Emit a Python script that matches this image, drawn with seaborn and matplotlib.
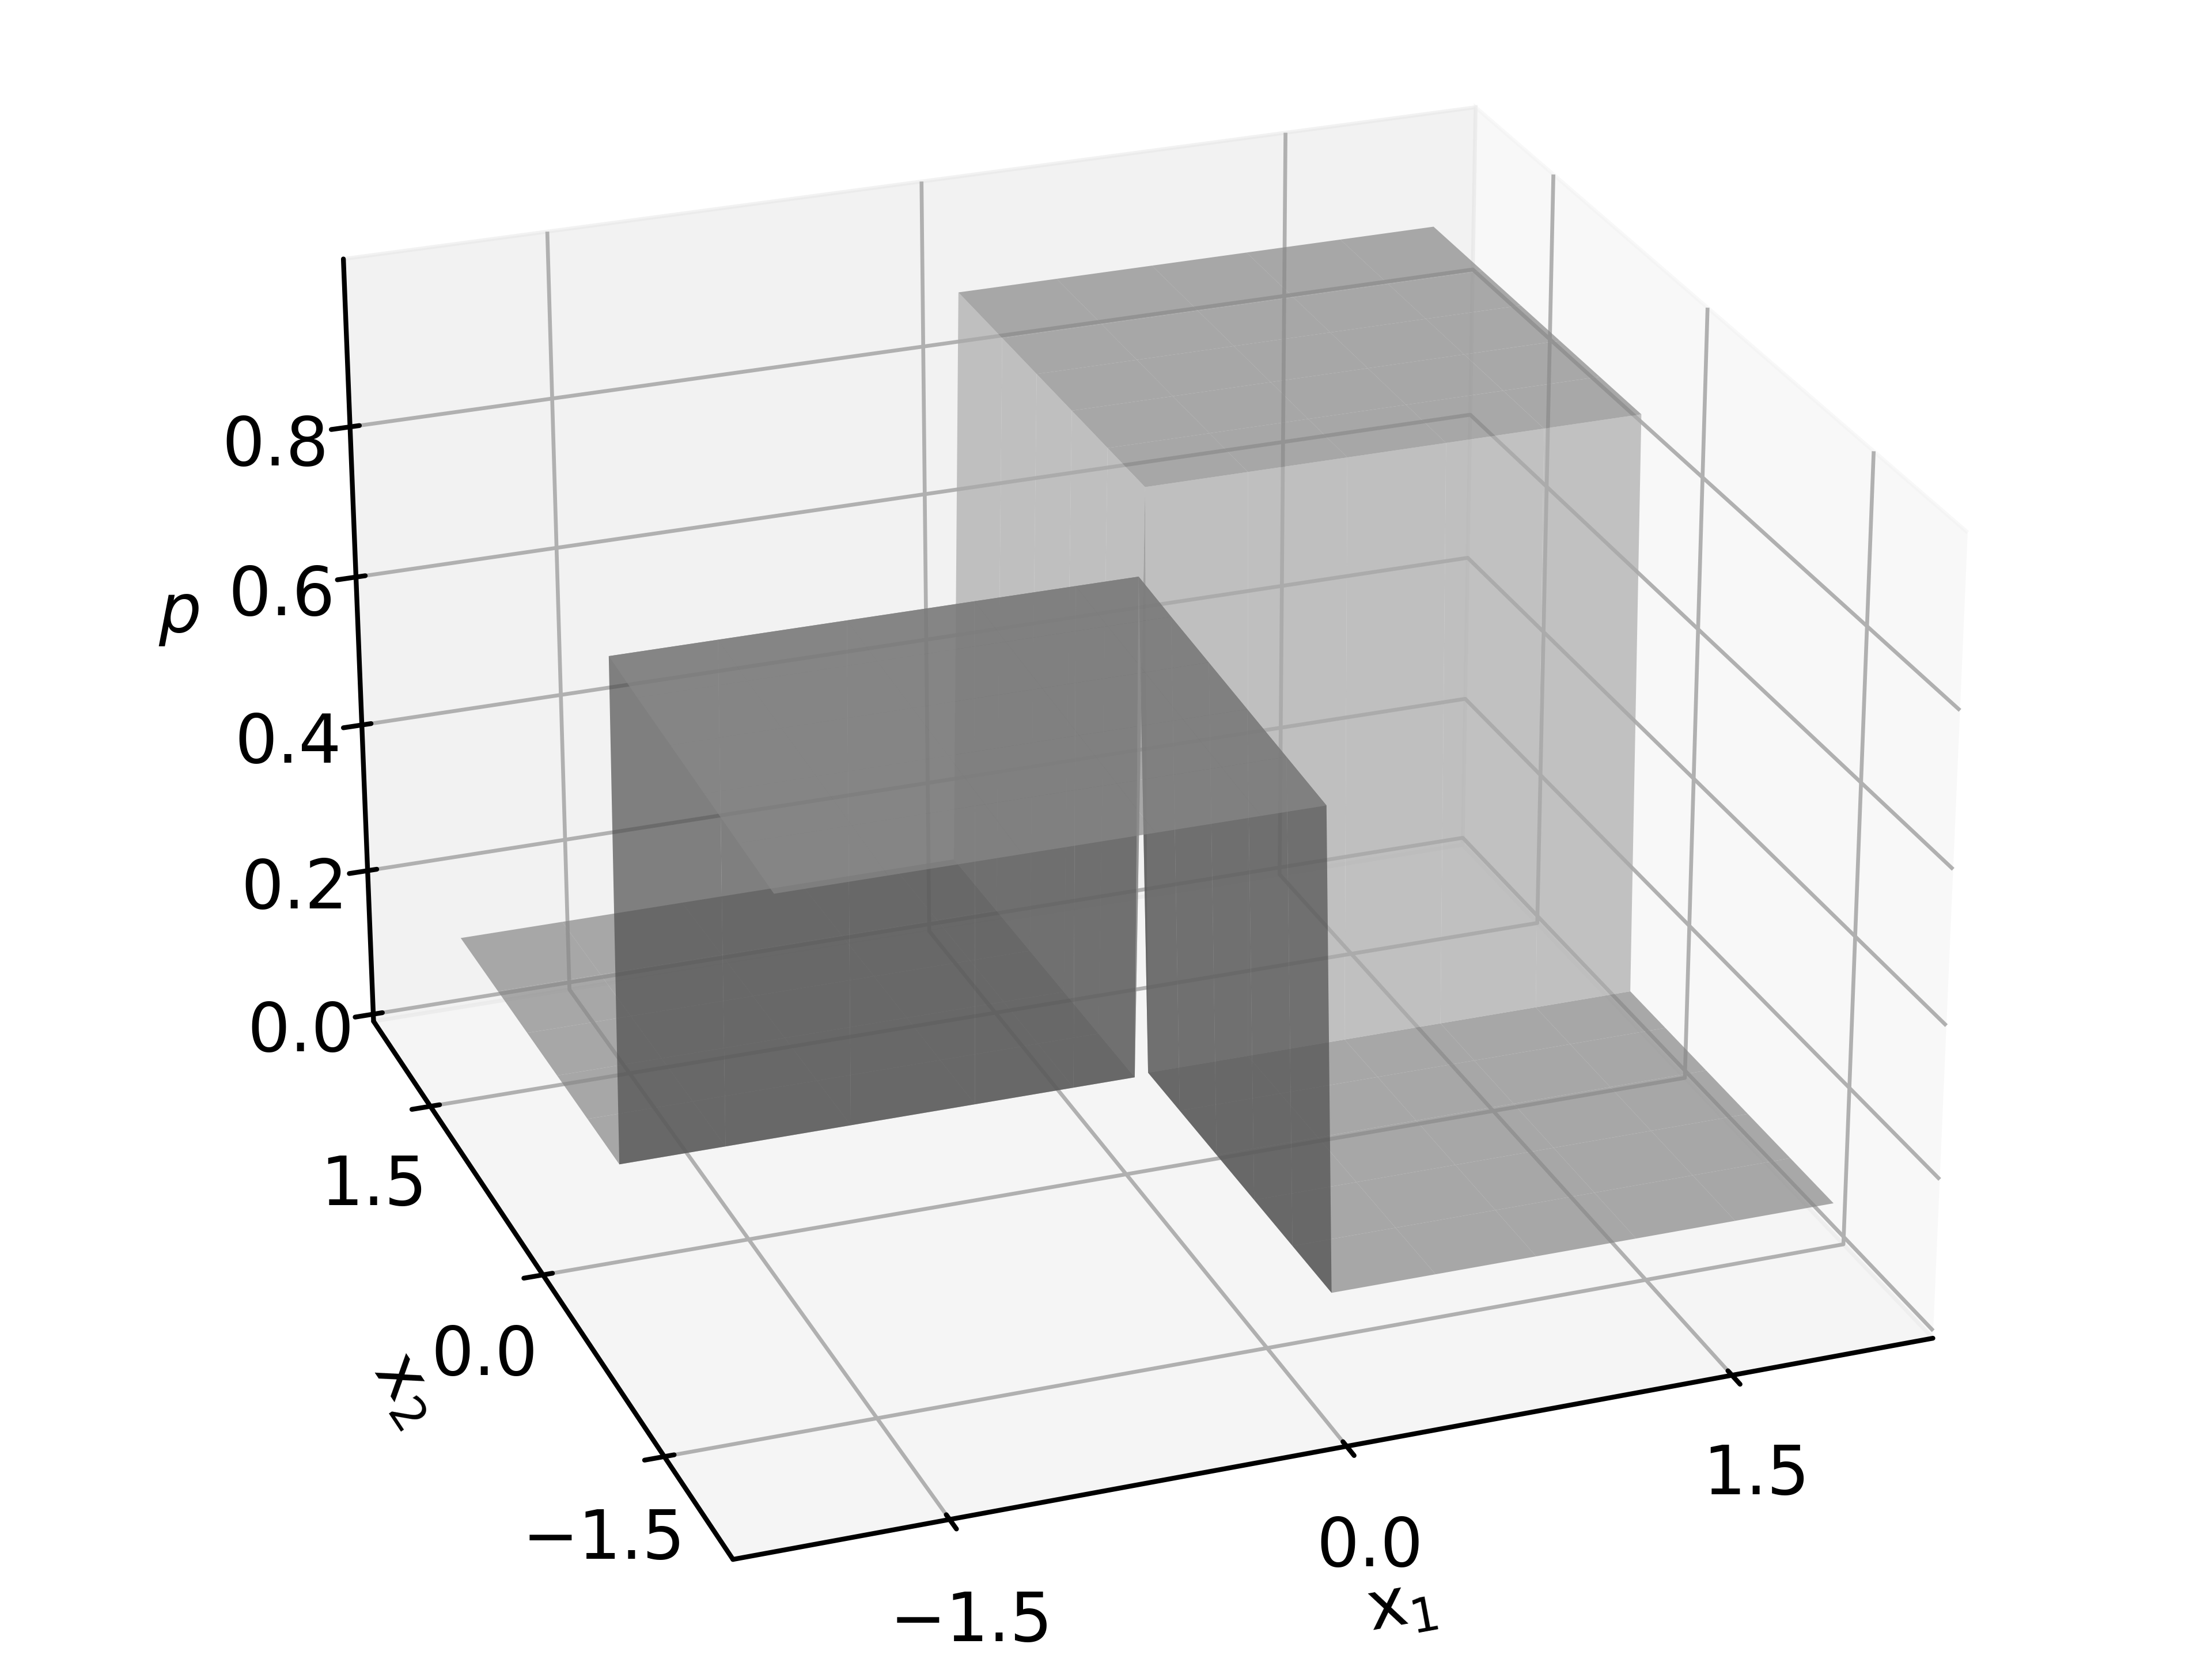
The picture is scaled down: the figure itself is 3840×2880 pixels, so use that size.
import numpy as np
import matplotlib
matplotlib.use("Agg")
import matplotlib.pyplot as plt
from matplotlib.colors import LightSource
import seaborn as sns
from mpl_toolkits.mplot3d import Axes3D

sns.set_theme(style="white", context="paper", font="DejaVu Sans", rc={
    "axes.edgecolor": "black", "text.color": "black", "xtick.color": "black", "ytick.color": "black",
    "axes.labelcolor": "black", "grid.color": "#b0b0b0", "grid.linewidth": 0.8,
    "font.size": 14, "axes.labelsize": 14, "xtick.labelsize": 14, "ytick.labelsize": 14,
})
plt.rcParams['mathtext.default'] = 'regular'

# nodes along each input, denser around the steps
x1_nodes = [-1.82, -1.4, -0.9, -0.4, 0.0, 0.25, 0.29, 0.7, 1.1, 1.5, 1.9, 2.3]
x2_nodes = [-1.4, -1.0, -0.6, -0.2, 0.2, 0.55, 0.59, 1.0, 1.4, 1.8, 2.2, 2.72]
# rows follow x2_nodes, columns follow x1_nodes
p_values = [
    [0.665, 0.665, 0.665, 0.665, 0.665, 0.665, 0.03, 0.03, 0.03, 0.03, 0.03, 0.03],
    [0.672, 0.672, 0.672, 0.672, 0.672, 0.672, 0.03, 0.03, 0.03, 0.03, 0.03, 0.03],
    [0.679, 0.679, 0.679, 0.679, 0.679, 0.679, 0.03, 0.03, 0.03, 0.03, 0.03, 0.03],
    [0.686, 0.686, 0.686, 0.686, 0.686, 0.686, 0.03, 0.03, 0.03, 0.03, 0.03, 0.03],
    [0.693, 0.693, 0.693, 0.693, 0.693, 0.693, 0.03, 0.03, 0.03, 0.03, 0.03, 0.03],
    [0.700, 0.700, 0.700, 0.700, 0.700, 0.700, 0.03, 0.03, 0.03, 0.03, 0.03, 0.03],
    [0.02, 0.02, 0.02, 0.02, 0.02, 0.02, 0.81, 0.81, 0.81, 0.81, 0.81, 0.81],
    [0.02, 0.02, 0.02, 0.02, 0.02, 0.02, 0.81, 0.81, 0.81, 0.81, 0.81, 0.81],
    [0.02, 0.02, 0.02, 0.02, 0.02, 0.02, 0.81, 0.81, 0.81, 0.81, 0.81, 0.81],
    [0.02, 0.02, 0.02, 0.02, 0.02, 0.02, 0.81, 0.81, 0.81, 0.81, 0.81, 0.81],
    [0.02, 0.02, 0.02, 0.02, 0.02, 0.02, 0.81, 0.81, 0.81, 0.81, 0.81, 0.81],
    [0.02, 0.02, 0.02, 0.02, 0.02, 0.02, 0.81, 0.81, 0.81, 0.81, 0.81, 0.81],
]
x_ticks = [-1.5, 0.0, 1.5]
z_ticks = [0.0, 0.2, 0.4, 0.6, 0.8]

X1, X2 = np.meshgrid(x1_nodes, x2_nodes)
P = np.array(p_values)

fig = plt.figure(figsize=(6.4, 4.8), dpi=600)
ax = fig.add_axes([-0.001, 0.01, 1, 1], projection="3d")
ax.plot_surface(X1, X2, P, color="#bebebe", alpha=0.7, rstride=1, cstride=1, linewidth=0, antialiased=True,
                lightsource=LightSource(azdeg=225, altdeg=10))

ax.set_xlim(-2.3, 2.3)
ax.set_ylim(-2.3, 2.3)
ax.set_zlim(-0.01, 1.02)
ax.set_xticks(x_ticks)
ax.set_yticks(x_ticks)
ax.set_zticks(z_ticks)
ax.set_xlabel(r"$\mathrm{x}_1$", fontsize=14, labelpad=0)
ax.set_ylabel(r"$\mathrm{x}_2$", fontsize=14, labelpad=0)
ax.zaxis.set_rotate_label(False)
ax.set_zlabel(r"$\mathit{p}$", fontsize=14, labelpad=1)
ax.view_init(elev=25, azim=-110.5)
ax.set_box_aspect((4, 3.9, 2.78), zoom=1.135)
ax.tick_params(labelsize=14, pad=1)

fig.savefig("out.png", dpi=600)
